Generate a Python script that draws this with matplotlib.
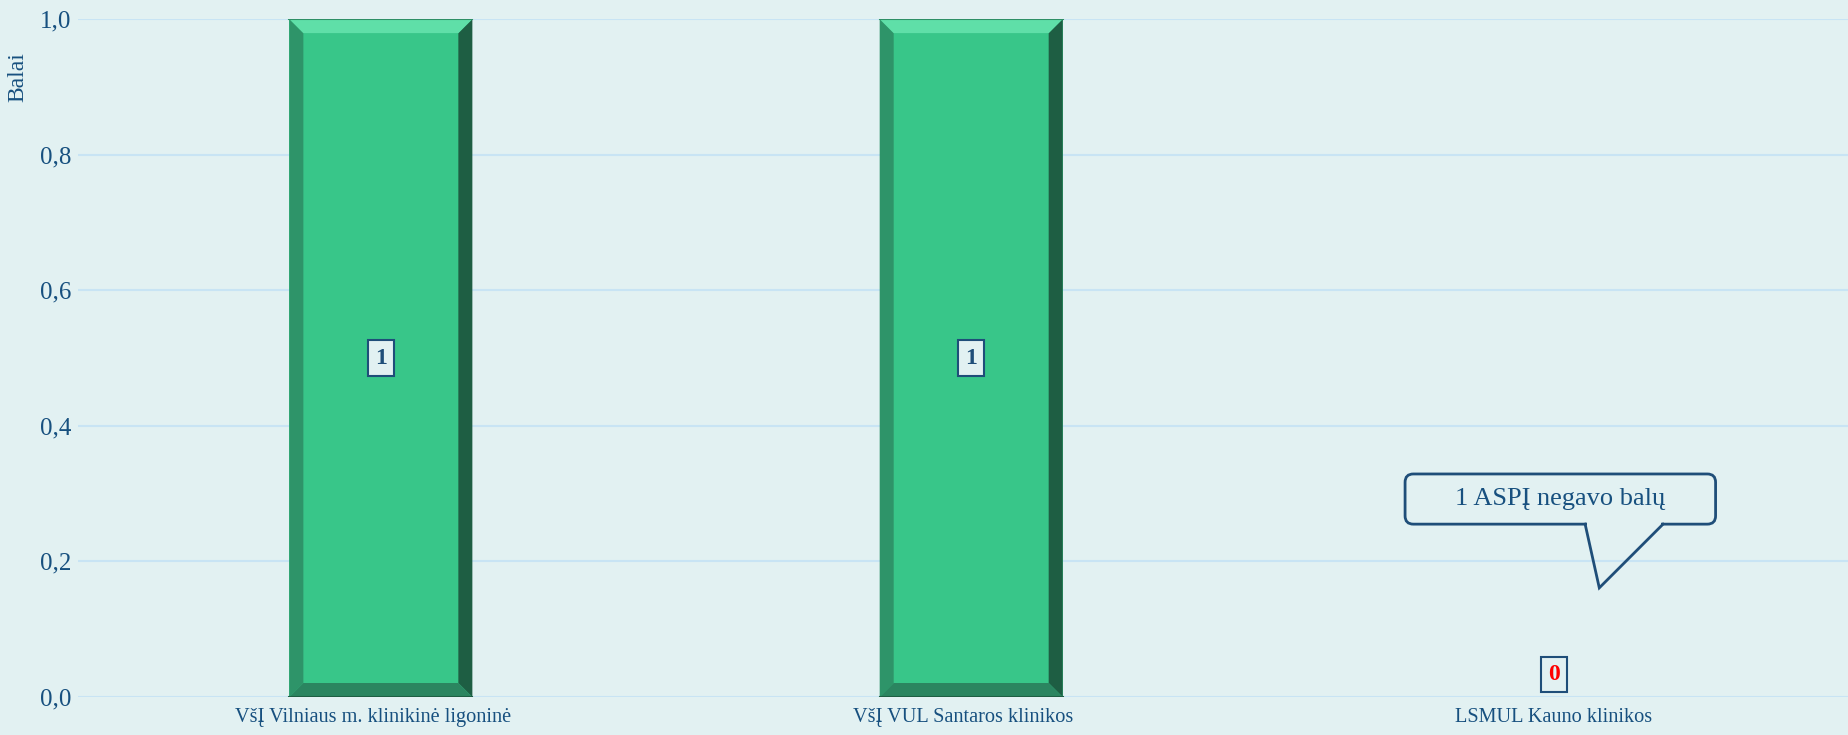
import matplotlib.pyplot as plt
from matplotlib.patches import Polygon, FancyBboxPatch

categories = ['VšĮ Vilniaus m. klinikinė ligoninė', 'VšĮ VUL Santaros klinikos',
              'LSMUL Kauno klinikos']
values = [1, 1, 0]
yticks = [0.0, 0.2, 0.4, 0.6, 0.8, 1.0]
callout_text = '1 ASPĮ negavo balų'

plt.rcParams['font.family'] = ['Liberation Serif', 'DejaVu Serif']

BG = '#E2F1F2'
GRID = '#C8E4F4'
TXT = '#17507F'
EDGE = '#1F4E79'
GREEN = '#38C689'

fig = plt.figure(figsize=(18.49, 7.35), dpi=100, facecolor=BG)
ax = fig.add_axes([0.0422, 0.0517, 0.9578, 0.9223])
ax.set_facecolor(BG)

x = list(range(len(categories)))
shift = 0.013  # bars sit a touch right of the category centre
width = 0.31
bars = ax.bar([xi + shift for xi in x], values, width=width, color=GREEN,
              zorder=2, linewidth=0)

ax.set_xlim(-0.5, len(categories) - 0.5)
ax.set_ylim(0, 1.0)

# bevel look on the bars
bx = 14 / 590
by = 14 / 678
for b in bars:
    h = b.get_height()
    if h <= 0:
        continue
    x0, x1 = b.get_x(), b.get_x() + b.get_width()
    y0, y1 = 0, h
    top = [(x0, y1), (x1, y1), (x1 - bx, y1 - by), (x0 + bx, y1 - by)]
    left = [(x0, y0), (x0, y1), (x0 + bx, y1 - by), (x0 + bx, y0 + by)]
    right = [(x1, y0), (x1, y1), (x1 - bx, y1 - by), (x1 - bx, y0 + by)]
    bottom = [(x0, y0), (x1, y0), (x1 - bx, y0 + by), (x0 + bx, y0 + by)]
    ax.add_patch(Polygon(left, closed=True, fc='#2E9469', ec='none', zorder=3))
    ax.add_patch(Polygon(right, closed=True, fc='#1E5E43', ec='none', zorder=3))
    ax.add_patch(Polygon(bottom, closed=True, fc='#2B8560', ec='none', zorder=3))
    ax.add_patch(Polygon(top, closed=True, fc='#5FDFA8', ec='none', zorder=3))
    ax.plot([x0, x1], [y1, y1], color='#2E8F66', lw=1.5, zorder=4)
    ax.plot([x0, x1], [y0, y0], color='#1E5E43', lw=1.5, zorder=4)

# value labels
for xi, v in zip(x, values):
    if v > 0:
        ax.text(xi + shift, v / 2, str(v), ha='center', va='center', fontsize=17,
                fontweight='bold', color=EDGE, zorder=5,
                bbox=dict(boxstyle='square,pad=0.3', fc=BG, ec=EDGE, lw=1.5))
    else:
        ax.text(xi, 0.033, str(v), ha='center', va='center', fontsize=17,
                fontweight='bold', color='red', zorder=5,
                bbox=dict(boxstyle='square,pad=0.3', fc=BG, ec=EDGE, lw=1.5))

# callout
cx0, cx1 = 1.748, 2.274
cy0, cy1 = 0.255, 0.329
box = FancyBboxPatch((cx0, cy0), cx1 - cx0, cy1 - cy0,
                     boxstyle='round,pad=0,rounding_size=0.014',
                     mutation_aspect=590 / 678, fc=BG, ec=EDGE, lw=2, zorder=5)
ax.add_patch(box)
tail_x = [2.053, 2.077, 2.185]
tail_y = [cy0, 0.161, cy0]
ax.plot([tail_x[0] + 0.003, tail_x[2] - 0.004], [cy0, cy0], color=BG, lw=4,
        zorder=6, solid_capstyle='butt')
ax.plot(tail_x, tail_y, color=EDGE, lw=2, zorder=7, solid_joinstyle='miter')
ax.text((cx0 + cx1) / 2, (cy0 + cy1) / 2, callout_text, ha='center', va='center',
        fontsize=19, color=TXT, zorder=8)

ax.set_yticks(yticks)
ax.set_yticklabels([f'{t:.1f}'.replace('.', ',') for t in yticks],
                   fontsize=18, color=TXT)
ax.set_xticks(x)
ax.set_xticklabels(categories, fontsize=14.6, color=TXT)
ax.tick_params(axis='both', length=0)
ax.tick_params(axis='y', pad=5)
ax.tick_params(axis='x', pad=8)
ax.yaxis.grid(True, color=GRID, lw=1.5, zorder=0)
ax.set_axisbelow(True)
for s in ax.spines.values():
    s.set_visible(False)

fig.text(0.0095, 0.895, 'Balai', rotation=90, ha='center', va='center',
         fontsize=17, color=TXT)

fig.savefig('out.png', dpi=100, facecolor=BG)
